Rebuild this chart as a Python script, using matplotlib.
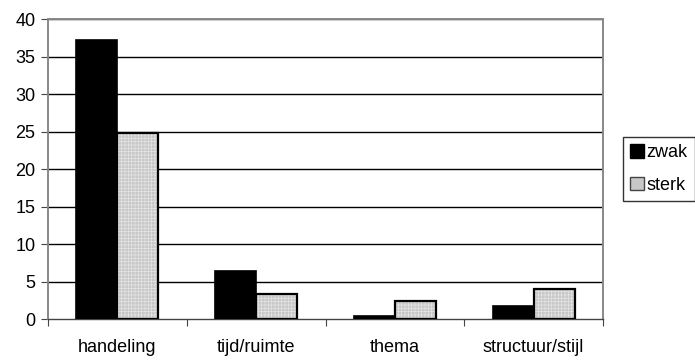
import numpy as np
import matplotlib
matplotlib.use("Agg")
import matplotlib.pyplot as plt
from matplotlib.patches import Patch

plt.rcParams["font.family"] = ["Liberation Sans", "DejaVu Sans"]
plt.rcParams["font.size"] = 13
plt.rcParams["hatch.linewidth"] = 0.5

# Gegevens
categorieen = ["handeling", "tijd/ruimte", "thema", "structuur/stijl"]
zwak = [37.2, 6.4, 0.5, 1.8]
sterk = [24.8, 3.4, 2.4, 4.0]

fig = plt.figure(figsize=(6.95, 3.63), dpi=100)
ax = fig.add_axes([0.0691, 0.1204, 0.7986, 0.826])

x = np.arange(len(categorieen))
b = 0.295

# rasterlijnen
for y in range(5, 41, 5):
    ax.axhline(y, color="black", linewidth=1.0, zorder=1)

ax.bar(x - b / 2, zwak, width=b, color="black", edgecolor="black",
       linewidth=1.2, zorder=3)
# grijs gerasterde balken: eerst vulling met raster, dan zwarte rand
ax.bar(x + b / 2, sterk, width=b, color="#c8c8c8", edgecolor="#e4e4e4",
       hatch="+++++", linewidth=0, zorder=3)
ax.bar(x + b / 2, sterk, width=b, fill=False, edgecolor="black",
       linewidth=1.6, zorder=4)

ax.set_xlim(-0.5, len(categorieen) - 0.5)
ax.set_ylim(0, 40)
ax.set_yticks(range(0, 41, 5))
ax.set_xticks(np.arange(-0.5, len(categorieen), 1.0))
ax.set_xticklabels([])
ax.set_xticks(x, minor=True)
ax.set_xticklabels(categorieen, minor=True)
ax.tick_params(axis="x", which="minor", length=0, pad=14)
ax.tick_params(axis="x", which="major", length=5, direction="out", color="#444444")
ax.tick_params(axis="y", length=5, direction="out", color="#444444", pad=4)

for side in ["top", "right", "left"]:
    ax.spines[side].set_color("#888888")
    ax.spines[side].set_linewidth(1.4)
ax.spines["bottom"].set_color("#444444")
ax.spines["bottom"].set_linewidth(1.0)

handles = [
    Patch(facecolor="black", edgecolor="black", label="zwak"),
    Patch(facecolor="#c8c8c8", edgecolor="#444444", label="sterk"),
]
leg = fig.legend(handles=handles, loc="upper left",
                 bbox_to_anchor=(623 / 695, 1 - 137 / 363),
                 frameon=True, fancybox=False, handlelength=0.75,
                 handleheight=0.75, handletextpad=0.15, borderpad=0.4,
                 labelspacing=0.85, borderaxespad=0, fontsize=13)
leg.get_frame().set_edgecolor("black")
leg.get_frame().set_linewidth(1.0)

fig.savefig("out.png", dpi=100)
